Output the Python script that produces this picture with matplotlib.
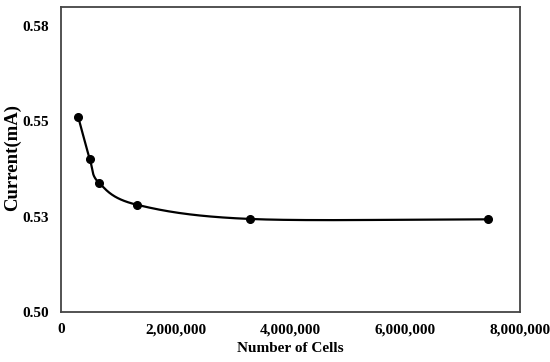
import numpy as np
import matplotlib.pyplot as plt
from matplotlib.ticker import FuncFormatter, MultipleLocator

cells = np.array([300000, 500000, 660000, 1330000, 3300000, 7450000])
current = np.array([0.5511, 0.5402, 0.5339, 0.5281, 0.5244, 0.5243])


def smooth(x, y, n=60, t=0.5):
    # cardinal spline through the points, similar to a "smoothed line"
    px = np.concatenate([[2 * x[0] - x[1]], x, [2 * x[-1] - x[-2]]])
    py = np.concatenate([[2 * y[0] - y[1]], y, [2 * y[-1] - y[-2]]])
    xs, ys = [], []
    s = np.linspace(0, 1, n)
    for i in range(1, len(px) - 2):
        p0, p1, p2, p3 = (np.array([px[j], py[j]]) for j in range(i - 1, i + 3))
        m1 = t * (p2 - p0) / 2 * 2 / 3
        m2 = t * (p3 - p1) / 2 * 2 / 3
        b1 = p1 + m1
        b2 = p2 - m2
        c = ((1 - s) ** 3)[:, None] * p1 + (3 * (1 - s) ** 2 * s)[:, None] * b1 \
            + (3 * (1 - s) * s ** 2)[:, None] * b2 + (s ** 3)[:, None] * p2
        xs.append(c[:, 0])
        ys.append(c[:, 1])
    return np.concatenate(xs), np.concatenate(ys)


plt.rcParams['font.family'] = 'Liberation Serif'
plt.rcParams['font.weight'] = 'bold'

fig = plt.figure(figsize=(5.5, 3.62), dpi=100)
ax = fig.add_axes([0.111, 0.138, 0.834, 0.843])

sx, sy = smooth(cells, current)
ax.plot(sx, sy, color='black', lw=1.6)
ax.plot(cells, current, 'o', color='black', ms=5.5)

ax.set_xlim(0, 8000000)
ax.set_ylim(0.5, 0.58)
ax.xaxis.set_major_locator(MultipleLocator(2000000))
ax.yaxis.set_major_locator(MultipleLocator(0.025))
ax.xaxis.set_major_formatter(FuncFormatter(lambda v, p: f'{v:,.0f}'))
ax.yaxis.set_major_formatter(FuncFormatter(lambda v, p: f'{v + 1e-9:.2f}'))
ax.tick_params(length=0, labelsize=11)
ax.tick_params(axis='y', pad=9)
ax.tick_params(axis='x', pad=8)
for lab in ax.get_xticklabels() + ax.get_yticklabels():
    lab.set_fontweight('bold')
for sp in ax.spines.values():
    sp.set_color('#444444')
    sp.set_linewidth(1.3)

ax.set_xlabel('Number of Cells', fontsize=11, fontweight='bold')
ax.set_ylabel('Current(mA)', fontsize=13.5, fontweight='bold')
ax.xaxis.set_label_coords(0.5, -0.118)
ax.yaxis.set_label_coords(-0.106, 0.508)
ax.yaxis.label.set_va('center')
ax.xaxis.label.set_va('center')

fig.savefig('out.png', dpi=100)
